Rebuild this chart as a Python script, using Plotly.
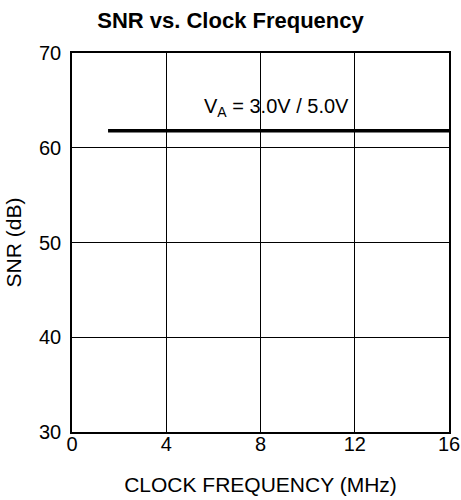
import plotly.graph_objects as go

freq_mhz = [1.53, 16]
snr_db = [61.8, 61.8]
x_ticks = [0, 4, 8, 12, 16]
y_ticks = [30, 40, 50, 60, 70]
label = "V<sub>A</sub> = 3.0V / 5.0V"

FONT = "Liberation Sans, Arial, Helvetica"

fig = go.Figure()
fig.add_trace(go.Scatter(x=freq_mhz, y=snr_db, mode="lines",
                         line=dict(color="black", width=3.5), showlegend=False))

fig.add_annotation(x=8.7, y=64.3, text=label, showarrow=False,
                   font=dict(family=FONT, size=20, color="black"))

axis_common = dict(showgrid=True, gridcolor="black", gridwidth=1,
                   showline=True, linecolor="black", linewidth=1.5, mirror=True,
                   zeroline=False, ticks="")

fig.update_xaxes(range=[0, 16], tickvals=x_ticks, ticklabelstandoff=-7,
                 tickfont=dict(family=FONT, size=20, color="black"),
                 title=dict(text="CLOCK FREQUENCY (MHz)", standoff=24,
                            font=dict(family=FONT, size=21, color="black")),
                 **axis_common)
fig.update_yaxes(range=[30, 70], tickvals=y_ticks, ticklabelstandoff=5,
                 tickfont=dict(family=FONT, size=20, color="black"),
                 title=dict(text="SNR (dB)", standoff=12,
                            font=dict(family=FONT, size=21, color="black")),
                 **axis_common)

fig.update_layout(
    width=461, height=500,
    margin=dict(l=72, r=12, t=53, b=68, autoexpand=False),
    plot_bgcolor="white", paper_bgcolor="white",
    title=dict(text="<b>SNR vs. Clock Frequency</b>", x=0.5, xanchor="center",
               y=0.96, yanchor="middle",
               font=dict(family=FONT, size=22, color="black")),
)

fig.write_html("out.html", config={"displayModeBar": False},
               post_script="document.body.style.margin='0';document.body.style.overflow='hidden';")
